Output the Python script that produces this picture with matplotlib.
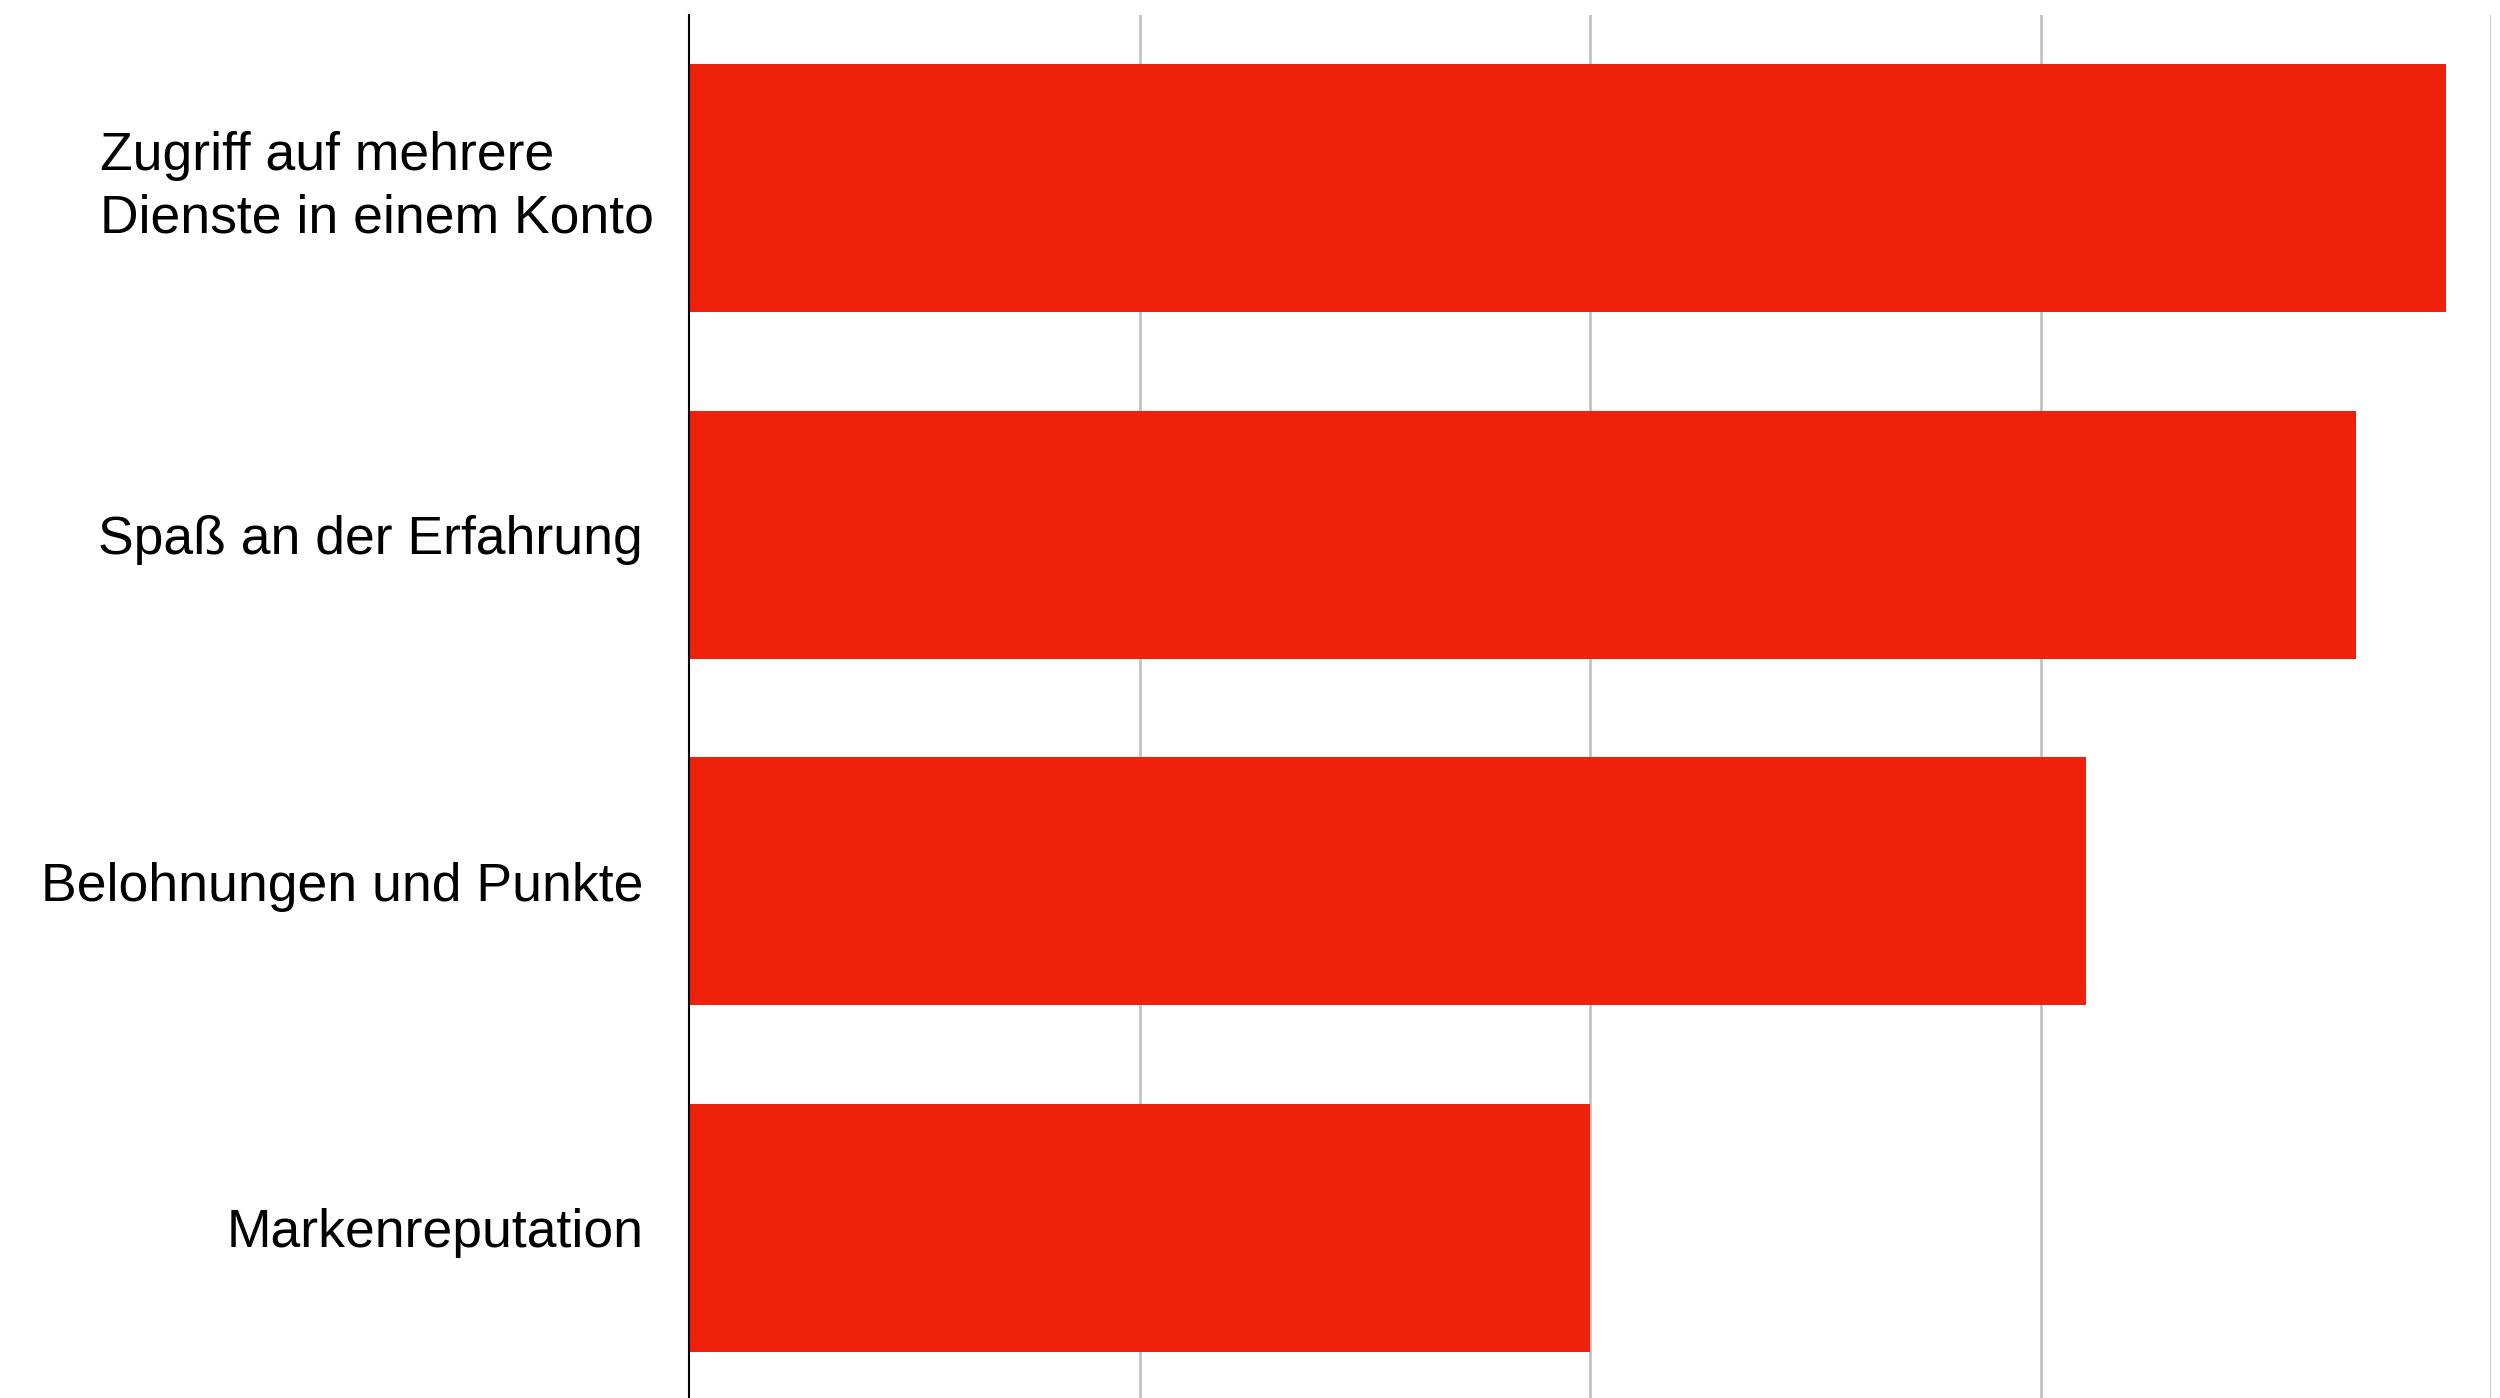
import matplotlib
matplotlib.use("Agg")
import matplotlib.pyplot as plt
from matplotlib.transforms import ScaledTranslation

# data (top to bottom)
categories = [
    "Zugriff auf mehrere\nDienste in einem Konto",
    "Spaß an der Erfahrung",
    "Belohnungen und Punkte",
    "Markenreputation",
]
values = [39.0, 37.0, 31.0, 20.0]
grid_ticks = [10, 20, 30, 40]

BAR_COLOR = "#EE220C"

plt.rcParams["font.family"] = ["Liberation Sans", "DejaVu Sans"]

fig = plt.figure(figsize=(25, 13.98), dpi=100)
ax = fig.add_axes([689 / 2500, -3 / 1398, 1802 / 2500, 1386 / 1398])

ypos = list(range(len(categories)))
ax.barh(ypos, values, height=0.715, color=BAR_COLOR, zorder=3)

ax.set_xlim(0, 40)
ax.set_ylim(3.5, -0.5)

for g in grid_ticks:
    ax.axvline(g, color="#BFBFBF", lw=1.9, zorder=1)

for side in ["top", "right", "bottom"]:
    ax.spines[side].set_visible(False)
ax.spines["left"].set_color("black")
ax.spines["left"].set_linewidth(1.5)
ax.spines["left"].set_zorder(4)

ax.set_xticks([])
ax.set_yticks(ypos)
ax.set_yticklabels(categories, fontsize=38.5)
ax.tick_params(axis="y", length=0, pad=33)
for lbl in ax.get_yticklabels():
    lbl.set_multialignment("left")
    lbl.set_linespacing(1.32)
    if "\n" in lbl.get_text():
        # the two-line label sits a little higher and further right
        lbl.set_transform(lbl.get_transform() +
                          ScaledTranslation(8 / 72, 9 / 72, fig.dpi_scale_trans))

fig.savefig("out.png", dpi=100, facecolor="white")
